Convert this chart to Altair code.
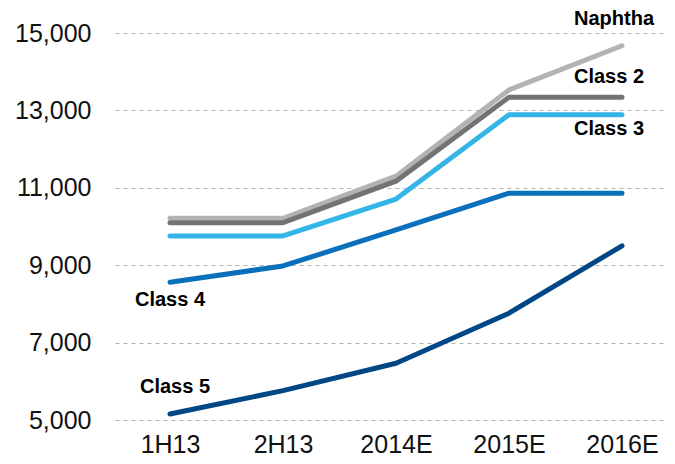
import altair as alt
import pandas as pd

periods = ["1H13", "2H13", "2014E", "2015E", "2016E"]
series_names = ["Naphtha", "Class 2", "Class 3", "Class 4", "Class 5"]
naphtha = [10210, 10210, 11300, 13530, 14670]
class2 = [10100, 10100, 11170, 13340, 13340]
class3 = [9755, 9755, 10710, 12890, 12890]
class4 = [8560, 8980, 9910, 10860, 10860]
class5 = [5155, 5760, 6465, 7760, 9500]
colors = ["#b3b3b3", "#737373", "#33b5e8", "#0a70bb", "#004785"]
y_ticks = [5000, 7000, 9000, 11000, 13000, 15000]

label_anchor_period = ["2016E", "2016E", "2016E", "1H13", "1H13"]

values = [naphtha, class2, class3, class4, class5]

FONT = "Liberation Sans"

xscale = alt.Scale(domain=periods, padding=0.4425, align=0.55)
yscale = alt.Scale(domain=[5000, 15000], nice=False, zero=False)

axis_x = alt.Axis(title=None, domain=False, ticks=False, grid=False,
                  labelFont=FONT, labelFontSize=25, labelColor="#111111",
                  labelPadding=12, labelAngle=0)
axis_y = alt.Axis(title=None, domain=False, ticks=False, grid=True,
                  gridDash=[4, 4], gridColor="#b3b3b3", gridWidth=1,
                  values=y_ticks, format=",.0f", labelFont=FONT,
                  labelFontSize=25, labelColor="#111111", labelPadding=24)

X = alt.X("period:N", sort=periods, scale=xscale, axis=axis_x)
Y = alt.Y("value:Q", scale=yscale, axis=axis_y)

layers = []
for name, vals, col in zip(series_names, values, colors):
    df = pd.DataFrame({"period": periods, "value": vals, "series": name})
    ch = alt.Chart(df).mark_line(strokeWidth=5, strokeCap="round",
                                 strokeJoin="round", color=col, clip=False).encode(
        x=X, y=Y)
    layers.append(ch)

offsets = {"Naphtha": (-8, -27), "Class 2": (-13, -20), "Class 3": (-13, 14),
           "Class 4": (0, 18), "Class 5": (5, -27)}
for name, vals, per in zip(series_names, values, label_anchor_period):
    v = vals[periods.index(per)]
    dx, dy = offsets[name]
    ldf = pd.DataFrame({"period": [per], "value": [v], "label": [name]})
    t = alt.Chart(ldf).mark_text(font=FONT, fontSize=20, fontWeight="bold",
                                 color="#000000", align="center",
                                 baseline="middle", dx=dx, dy=dy).encode(
        x=X, y=Y, text="label:N")
    layers.append(t)

chart = alt.layer(*layers).properties(
    width=552, height=387,
    background="white",
    autosize=alt.AutoSizeParams(type="none"),
    padding={"left": 107, "top": 25, "right": 0, "bottom": 36},
).configure_view(stroke="transparent", strokeWidth=0)

chart.save("out.html", embed_options={"renderer": "svg", "actions": False})
